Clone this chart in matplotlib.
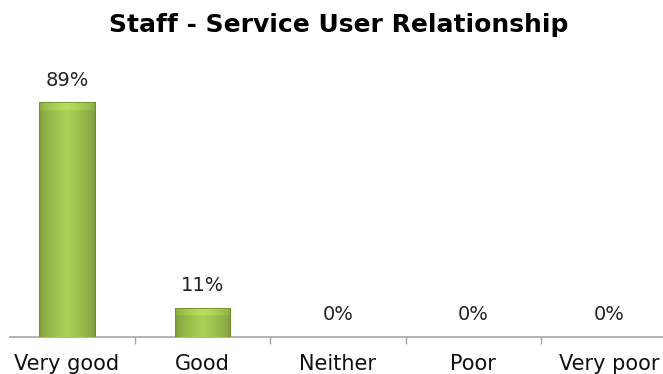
import numpy as np
import matplotlib
matplotlib.use("Agg")
import matplotlib.pyplot as plt

categories = ["Very good", "Good", "Neither", "Poor", "Very poor"]
percentages = [89, 11, 0, 0, 0]
title = "Staff - Service User Relationship"

plt.rcParams['font.family'] = ['DejaVu Sans']

fig = plt.figure(figsize=(6.63, 3.74), dpi=100)
ax = fig.add_axes([10 / 663, 37 / 374, 653 / 663, 264 / 374])

x = np.arange(len(categories))
bars = ax.bar(x, percentages, width=0.41, color="#9bbb59", edgecolor="#6f8f2a", linewidth=0.6, zorder=2)

# shaded fill for each bar: lighter middle, darker sides, bevelled top
for bar in bars:
    h = bar.get_height()
    if h <= 0:
        continue
    x0, w = bar.get_x(), bar.get_width()
    nx, ny = 60, 200
    u = np.linspace(0, 1, nx)
    side = 1 - np.abs(u - 0.5) * 2
    shade = 0.74 + 0.26 * side ** 0.6
    img = np.zeros((ny, nx, 3))
    base = np.array([170, 208, 84]) / 255.0
    for i in range(3):
        img[:, :, i] = base[i] * shade[None, :]
    # bevel band near the top
    bev = 8.0 / (264 / 100)  # about 8 px in data units
    rows = np.linspace(0, h, ny)
    top_band = rows > h - bev
    img[top_band] = np.clip(img[top_band] * 1.08, 0, 1)
    im = ax.imshow(img, extent=[x0, x0 + w, 0, h], origin="lower", aspect="auto", zorder=3)
    im.set_clip_path(bar)
    ax.add_patch(plt.Rectangle((x0, 0), w, h, fill=False, edgecolor="#6f8f2a", linewidth=0.6, zorder=4))

for xi, v in zip(x, percentages):
    ax.annotate(f"{v}%", (xi, v), xytext=(0, 9), textcoords="offset points",
                ha="center", va="bottom", fontsize=14, color="#222222")

ax.set_xlim(-0.42, 4.40)
ax.set_ylim(0, 100)
ax.set_xticks(x, categories, fontsize=15)
ax.set_xticks(x[:-1] + 0.5, minor=True)
ax.tick_params(axis="x", which="major", length=0, pad=12, colors="#111111")
ax.tick_params(axis="x", which="minor", length=5, width=1, color="#a6a6a6")
ax.set_yticks([])
for s in ["top", "left", "right"]:
    ax.spines[s].set_visible(False)
ax.spines["bottom"].set_color("#a6a6a6")
ax.spines["bottom"].set_linewidth(1.2)

fig.text(0.511, 1 - 25 / 374, title, ha="center", va="center", fontsize=18, fontweight="bold")

fig.savefig("out.png", dpi=100)
